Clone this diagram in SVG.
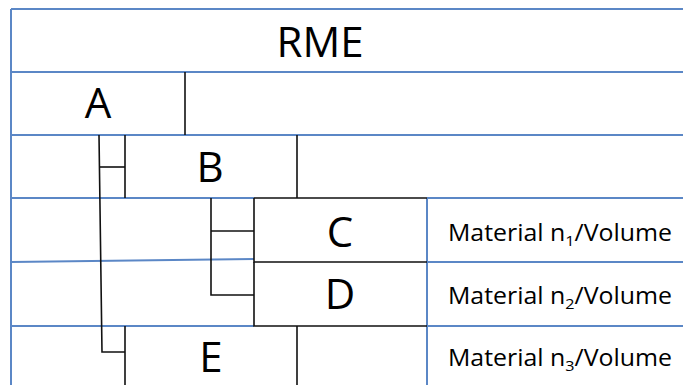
<svg xmlns="http://www.w3.org/2000/svg" width="683" height="385" viewBox="0 0 683 385">
<style>
.grid{stroke:#5b87c6;stroke-width:2;fill:none}
.blk{stroke:#111;stroke-width:1.6;fill:none}
.big{font-family:"Open Sans","Liberation Sans",Arial,sans-serif;font-size:42px;fill:#000;text-anchor:middle}
.lbl{font-family:"Open Sans","Liberation Sans",Arial,sans-serif;font-size:23px;fill:#000}
.sub{font-size:15px}
</style>
<rect width="683" height="385" fill="#fff"/>
<g id="grid" class="grid">
<path d="M11 9V385"/>
<path d="M11 9H683"/>
<path d="M11 72H683"/>
<path d="M11 135H683"/>
<path d="M11 198H254M427 198H683"/>
<path d="M11 262L254 259M427 262H683"/>
<path d="M11 326H254M427 326H683"/>
<path d="M427 198V385"/>
</g>
<g id="RME"><text class="big" x="320" y="57">RME</text></g>
<g id="A"><path class="blk" d="M185 72V135"/><text class="big" x="98" y="118">A</text></g>
<g id="B"><path class="blk" d="M125 135V198M297 135V198"/><text class="big" x="210" y="182">B</text></g>
<g id="C"><path class="blk" d="M254 198H427M254 198V262H427"/><text class="big" x="340" y="247">C</text></g>
<g id="D"><path class="blk" d="M254 262V326H427"/><text class="big" x="340" y="309">D</text></g>
<g id="E"><path class="blk" d="M125 326V385M297 326V385"/><text class="big" x="211" y="372">E</text></g>
<g id="labels">
<text class="lbl" x="448" y="241" textLength="224" lengthAdjust="spacingAndGlyphs">Material n<tspan class="sub" dy="5">1</tspan><tspan dy="-5">/Volume</tspan></text>
<text class="lbl" x="448" y="304" textLength="224" lengthAdjust="spacingAndGlyphs">Material n<tspan class="sub" dy="5">2</tspan><tspan dy="-5">/Volume</tspan></text>
<text class="lbl" x="448" y="366" textLength="224" lengthAdjust="spacingAndGlyphs">Material n<tspan class="sub" dy="5">3</tspan><tspan dy="-5">/Volume</tspan></text>
</g>
<g id="connectors" class="blk">
<path d="M99 135L102 352H125"/>
<path d="M99 167H125"/>
<path d="M211 198V295H254"/>
<path d="M211 231H254"/>
</g>
</svg>
